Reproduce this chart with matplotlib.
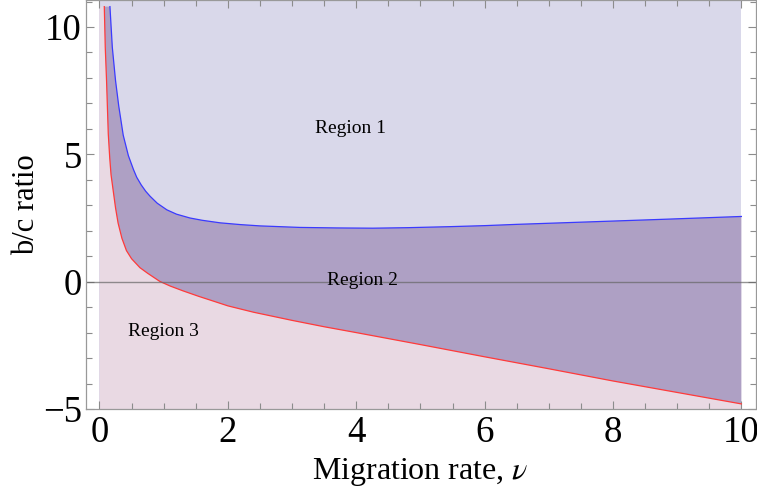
import matplotlib
matplotlib.use("Agg")
import matplotlib.pyplot as plt
import numpy as np

# boundary between region 1 and region 2 (blue curve)
blue_x = [0.163, 0.2, 0.25, 0.3, 0.37, 0.45, 0.53, 0.58, 0.65, 0.72, 0.79,
          0.9, 1.05, 1.2, 1.41, 1.6, 1.88, 2.2, 2.5, 3.12, 3.7, 4.26, 4.8,
          5.46, 6.0, 6.5, 7.66, 8.8, 10.0]
blue_y = [10.8, 9.2, 7.9, 6.9, 5.75, 4.95, 4.4, 4.1, 3.8, 3.55, 3.35,
          3.08, 2.82, 2.65, 2.5, 2.41, 2.31, 2.24, 2.19, 2.13, 2.11, 2.10, 2.12,
          2.16, 2.2, 2.25, 2.35, 2.45, 2.56]

# boundary between region 2 and region 3 (red curve)
red_x = [0.075, 0.09, 0.11, 0.137, 0.16, 0.18, 0.215, 0.25, 0.29, 0.35,
         0.42, 0.5, 0.63, 0.75, 0.94, 1.1, 1.3, 1.55, 1.77, 2.0, 2.4, 3.0,
         3.5, 4.0, 5.0, 6.0, 7.0, 8.0, 9.0, 10.0]
red_y = [10.8, 9.2, 7.9, 5.8, 4.85, 4.2, 3.55, 2.9, 2.3, 1.7,
         1.22, 0.9, 0.55, 0.33, 0.01, -0.17, -0.36, -0.58, -0.76, -0.95, -1.2, -1.52,
         -1.77, -2.0, -2.47, -2.95, -3.42, -3.9, -4.35, -4.8]

region_labels = ["Region 1", "Region 2", "Region 3"]
label_x = [3.91, 4.09, 0.99]
label_y = [6.0, 0.04, -1.96]

nu_min, nu_max = 0.0, 10.0
y_min, y_top, y_curve_top = -5.0, 11.06, 10.8

plt.rcParams["font.family"] = ["Liberation Serif", "DejaVu Serif"]
plt.rcParams["mathtext.fontset"] = "stix"


def draw(save_file):
    fig = plt.figure(figsize=(7.57, 4.94), dpi=100)
    ax = fig.add_axes([86 / 757, 85 / 494, 669.5 / 757, 409 / 494])

    bx, by = np.array(blue_x), np.array(blue_y)
    rx, ry = np.array(red_x), np.array(red_y)

    # region 1: everything in range
    ax.fill_between([nu_min, nu_max], y_min, y_top, color="#d9d8ea", lw=0)
    # region 3: below red curve
    ax.fill(np.r_[nu_min, rx, nu_max, nu_min],
            np.r_[y_curve_top, ry, y_min, y_min],
            color="#e9d9e3", lw=0)
    # region 2: between the curves
    ax.fill(np.r_[bx, rx[::-1]], np.r_[by, ry[::-1]], color="#aea0c4", lw=0)

    ax.plot(bx, by, color="#3a3aff", lw=0.9)
    ax.plot(rx, ry, color="#ff3a3a", lw=0.9)
    ax.axhline(0, color="0.4", lw=1.0, alpha=0.7)

    for txt, x, y in zip(region_labels, label_x, label_y):
        ax.text(x, y, txt, fontsize=14, ha="center", va="center")

    ax.set_xlim(-0.21, 10.22)
    ax.set_ylim(y_min, y_top)
    ax.set_xticks(np.arange(0, 11, 2))
    ax.set_xticks(np.arange(0, 10.5, 0.5), minor=True)
    ax.set_yticks([-5, 0, 5, 10])
    ax.set_yticks(np.arange(-5, 12, 1), minor=True)
    ax.tick_params(axis="both", which="both", direction="in", color="0.55",
                   top=True, right=True, labelsize=26.5)
    ax.tick_params(which="major", length=6, width=0.8)
    ax.tick_params(which="minor", length=4, width=0.8)
    ax.tick_params(axis="x", pad=5)
    ax.tick_params(axis="y", pad=3)
    for s in ax.spines.values():
        s.set_color("0.6")
        s.set_linewidth(0.9)

    ax.set_xlabel("Migration rate, $\\nu$", fontsize=23, labelpad=4)
    ax.set_ylabel("b/c ratio", fontsize=22, labelpad=1)

    if save_file is not None:
        fig.savefig(save_file)


if __name__ == "__main__":
    draw("out.png")
